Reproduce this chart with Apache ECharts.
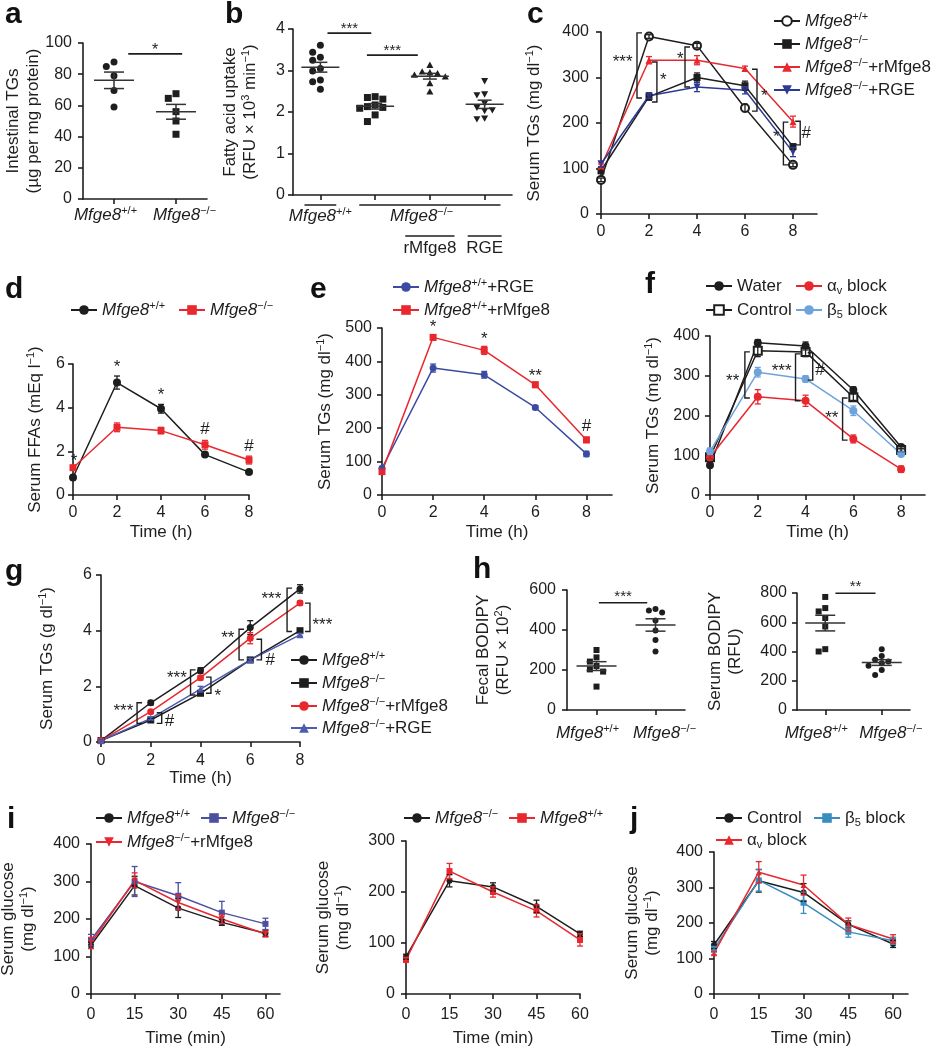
<!DOCTYPE html>
<html><head><meta charset="utf-8">
<script src="https://cdn.jsdelivr.net/npm/echarts@6/dist/echarts.min.js"></script>
<style>html,body{margin:0;padding:0;background:#fff}#chart{width:934px;height:1050px}</style>
</head><body><div id="chart"></div>
<script>
// ================= DATA =================
const TIME_H = [0, 2, 4, 6, 8];
const TIME_MIN = [0, 15, 30, 45, 60];
const H_TICKS = [0, 2, 4, 6, 8];
const MIN_TICKS = [0, 15, 30, 45, 60];

// a
const A_CATS = ['wt', 'ko'];
const A_LABELS = ['{i|Mfge8}{s|+/+}{gap|}', '{gap|}{i|Mfge8}{s|−/−}'];
const A_WT = [87.8, 85, 79, 69.6, 59];
const A_KO = [67.5, 64.5, 56, 50, 41.5];
const A_SIG = [[0.23, 1.1, 93, '*']];
// b
const B_CATS = ['wt', 'ko', 'rm', 'rge'];
const B_LABEL_WT = '{i|Mfge8}{s|+/+}';
const B_LABEL_KO = '{i|Mfge8}{s|−/−}';
const B_SUBLABELS = ['{n|rMfge8}', '{n|RGE}'];
const B_WT = [3.61, 3.44, 3.32, 3.25, 3.05, 2.99, 2.77, 2.73, 2.55];
const B_KO = [2.37, 2.35, 2.31, 2.17, 2.13, 2.11, 2.09, 1.93, 1.77];
const B_RM = [3.13, 2.97, 2.95, 2.93, 2.89, 2.85, 2.69, 2.49];
const B_RGE = [2.75, 2.43, 2.41, 2.21, 2.11, 2.05, 2.03, 1.85, 1.83];
const B_SIG = [[0.13, 0.93, 3.9, '***'], [0.85, 1.78, 3.37, '***']];
// c
const C_NAMES = ['{i|Mfge8}{s|+/+}', '{i|Mfge8}{s|−/−}', '{i|Mfge8}{s|−/−}{n|+rMfge8}', '{i|Mfge8}{s|−/−}{n|+RGE}'];
const C_WT = [75, 390, 370, 233, 108];   const C_WT_SEM = [4, 4, 5, 8, 4];
const C_KO = [95, 258, 300, 282, 148];   const C_KO_SEM = [6, 8, 10, 10, 6];
const C_RM = [105, 338, 338, 320, 203];  const C_RM_SEM = [5, 8, 10, 5, 12];
const C_RGE = [110, 260, 279, 272, 136]; const C_RGE_SEM = [6, 6, 10, 8, 10];
const C_STARS = [[0.9, 343, '***'], [2.6, 303, '*'], [3.3, 350, '*'], [6.8, 268, '*'], [7.3, 178, '*'], [8.55, 178, '#']];
const C_BRACKETS = [[1.5, 255, 398, 1], [2.33, 246, 334, -1], [3.5, 279, 367, 1], [6.5, 226, 318, -1], [7.6, 108, 202, 1], [8.3, 152, 204, -1]];
// d
const D_NAMES = ['{i|Mfge8}{s|+/+}', '{i|Mfge8}{s|−/−}'];
const D_WT = [0.8, 5.15, 3.95, 1.85, 1.05]; const D_WT_SEM = [0.1, 0.3, 0.2, 0.05, 0.05];
const D_KO = [1.25, 3.1, 2.95, 2.3, 1.6];   const D_KO_SEM = [0.1, 0.2, 0.15, 0.2, 0.18];
const D_STARS = [[0.05, 1.75, '*'], [2, 6.05, '*'], [4, 4.75, '*'], [6, 3.0, '#'], [8, 2.25, '#']];
// e
const E_NAMES = ['{i|Mfge8}{s|+/+}{n|+RGE}', '{i|Mfge8}{s|+/+}{n|+rMfge8}'];
const E_RGE = [80, 380, 360, 262, 123]; const E_RGE_SEM = [5, 12, 10, 6, 8];
const E_RM = [70, 472, 433, 330, 165];  const E_RM_SEM = [5, 8, 12, 8, 8];
const E_STARS = [[2, 515, '*'], [4, 478, '*'], [6, 368, '**'], [8, 205, '#']];
// f
const F_NAMES = ['{n|Water}', '{n|Control}', '{n|α}{u|v}{n| block}', '{n|β}{u|5}{n| block}'];
const F_WATER = [75, 383, 375, 264, 121]; const F_WATER_SEM = [5, 8, 10, 8, 5];
const F_CTRL = [95, 363, 360, 246, 113];  const F_CTRL_SEM = [5, 15, 12, 8, 5];
const F_AV = [95, 247, 237, 141, 65];     const F_AV_SEM = [5, 18, 14, 10, 8];
const F_B5 = [110, 309, 292, 212, 103];   const F_B5_SEM = [8, 12, 8, 12, 5];
const F_STARS = [[0.95, 297, '**'], [3.0, 322, '***'], [4.6, 314, '#'], [5.1, 204, '**']];
const F_BRACKETS = [[1.46, 244, 360, 1], [3.58, 237, 355, 1], [4.3, 289, 358, -1], [5.55, 138, 244, 1]];
// g
const G_NAMES = ['{i|Mfge8}{s|+/+}', '{i|Mfge8}{s|−/−}', '{i|Mfge8}{s|−/−}{n|+rMfge8}', '{i|Mfge8}{s|−/−}{n|+RGE}'];
const G_WT = [0.05, 1.41, 2.57, 4.11, 5.5];  const G_WT_SEM = [0.02, 0.08, 0.1, 0.25, 0.15];
const G_KO = [0.05, 0.79, 1.75, 2.95, 4.0];  const G_KO_SEM = [0.02, 0.05, 0.05, 0.05, 0.05];
const G_RM = [0.05, 1.09, 2.31, 3.73, 4.99]; const G_RM_SEM = [0.02, 0.05, 0.08, 0.2, 0.08];
const G_RGE = [0.05, 0.85, 1.9, 2.95, 3.85]; const G_RGE_SEM = [0.02, 0.05, 0.1, 0.05, 0.05];
const G_STARS = [[0.9, 1.27, '***'], [2.75, 0.73, '#'], [3.05, 2.45, '***'], [4.7, 1.81, '*'], [5.1, 3.87, '**'], [6.8, 2.95, '#'], [6.85, 5.29, '***'], [8.9, 4.36, '***']];
const G_BRACKETS = [[1.45, 0.67, 1.41, 1], [2.44, 0.67, 1.05, -1], [3.6, 1.69, 2.59, 1], [4.42, 1.75, 2.33, -1], [5.55, 2.95, 4.05, 1], [6.45, 2.95, 3.69, -1], [7.48, 3.97, 5.53, 1], [8.4, 3.97, 4.99, -1]];
// h
const H_CATS = ['wt', 'ko'];
const H_LABELS = ['{i|Mfge8}{s|+/+}{gap2|}', '{gap2|}{i|Mfge8}{s|−/−}'];
const H_FECAL_WT = [300, 263, 242, 220, 203, 192, 117];
const H_FECAL_KO = [505, 497, 488, 447, 397, 350, 292];
const H_SERUM_WT = [773, 697, 674, 629, 571, 416, 400];
const H_SERUM_KO = [416, 370, 343, 331, 320, 302, 274, 240];
const H_FECAL_SIG = [[0.04, 0.86, 536, '***']];
const H_SERUM_SIG = [[0.18, 0.89, 798, '**']];
// i
const I1_NAMES = ['{i|Mfge8}{s|+/+}', '{i|Mfge8}{s|−/−}', '{i|Mfge8}{s|−/−}{n|+rMfge8}'];
const I1_WT = [130, 289, 229, 191, 162]; const I1_WT_SEM = [8, 25, 25, 8, 8];
const I1_KO = [144, 300, 262, 217, 187]; const I1_KO_SEM = [15, 40, 35, 30, 15];
const I1_RM = [136, 303, 244, 200, 160]; const I1_RM_SEM = [15, 20, 20, 12, 8];
const I2_NAMES = ['{i|Mfge8}{s|−/−}', '{i|Mfge8}{s|+/+}'];
const I2_KO = [73, 222, 210, 172, 118]; const I2_KO_SEM = [5, 12, 8, 12, 5];
const I2_WT = [67, 241, 200, 163, 106]; const I2_WT_SEM = [5, 15, 10, 12, 12];
// j
const J_NAMES = ['{n|Control}', '{n|β}{u|5}{n| block}', '{n|α}{u|v}{n| block}'];
const J_CTRL = [138, 319, 286, 196, 141]; const J_CTRL_SEM = [10, 32, 25, 10, 10];
const J_B5 = [126, 320, 257, 175, 150];   const J_B5_SEM = [8, 30, 30, 15, 10];
const J_AV = [115, 343, 307, 196, 155];   const J_AV_SEM = [5, 30, 28, 18, 12];

// ================= STYLE / HELPERS =================
const F = "'Liberation Sans', Arial, Helvetica, sans-serif";
const TXT = '#1e1e1e', AX = '#1e1e1e';
const RED = '#e8282e';
const RICH = {
  n: {fontFamily: F, fontSize: 17, color: TXT, lineHeight: 20},
  i: {fontFamily: F, fontSize: 17, fontStyle: 'italic', color: TXT, lineHeight: 20},
  s: {fontFamily: F, fontSize: 11, color: TXT, verticalAlign: 'top', lineHeight: 20},
  u: {fontFamily: F, fontSize: 11, color: TXT, verticalAlign: 'bottom', lineHeight: 20},
  gap: {width: 17, lineHeight: 20},
  gap2: {width: 18, lineHeight: 20}
};
const grids = [], xAxes = [], yAxes = [], series = [], legends = [], graphics = [];
const NAME_TEXT = {};

function addGrid(l, t, r, b) {
  grids.push({left: l, top: t, width: r - l, height: b - t, containLabel: false, outerBoundsMode: 'none'});
  return grids.length - 1;
}
function axLine() { return {show: true, onZero: false, lineStyle: {color: AX, width: 1.6}}; }
function axTick(extra) { return Object.assign({show: true, length: 5, inside: false, lineStyle: {color: AX, width: 1.6}}, extra || {}); }
function yAx(gi, min, max, interval, name, gap, margin) {
  yAxes.push({gridIndex: gi, type: 'value', min, max, interval, name, nameLocation: 'middle', nameGap: gap, nameRotate: 90,
    nameMoveOverlap: false,
    nameTextStyle: {fontFamily: F, fontSize: 17, color: TXT, lineHeight: 20, rich: RICH},
    axisLine: axLine(), axisTick: axTick(), splitLine: {show: false},
    axisLabel: {fontFamily: F, fontSize: 16, color: TXT, margin}});
}
function xVal(gi, max, ticks, name, margin, gap) {
  xAxes.push({gridIndex: gi, type: 'value', min: 0, max, name, nameLocation: 'middle', nameGap: gap, nameMoveOverlap: false,
    nameTextStyle: {fontFamily: F, fontSize: 17, color: TXT},
    axisLine: axLine(), axisTick: axTick({customValues: ticks}), splitLine: {show: false},
    axisLabel: {fontFamily: F, fontSize: 16, color: TXT, margin, customValues: ticks}});
}
function xCat(gi, cats, labels, margin) {
  xAxes.push({gridIndex: gi, type: 'category', data: cats, boundaryGap: true,
    axisLine: axLine(), axisTick: axTick({alignWithLabel: true}), splitLine: {show: false},
    axisLabel: {show: !!labels, interval: 0, margin, formatter: (v, i) => labels ? labels[i] : '', rich: RICH,
      fontFamily: F, fontSize: 17, color: TXT, hideOverlap: false}});
}
function errS(gi, xs, ys, sems, color, cap) {
  return {type: 'custom', xAxisIndex: gi, yAxisIndex: gi, silent: true, z: 4,
    data: xs.map((x, i) => [x, ys[i], sems[i]]),
    renderItem: (p, api) => {
      const x = api.value(0), m = api.value(1), s = api.value(2);
      const t = api.coord([x, m + s]), b = api.coord([x, m - s]);
      const st = {stroke: color, lineWidth: 1.3};
      return {type: 'group', children: [
        {type: 'line', shape: {x1: t[0], y1: t[1], x2: b[0], y2: b[1]}, style: st},
        {type: 'line', shape: {x1: t[0] - cap, y1: t[1], x2: t[0] + cap, y2: t[1]}, style: st},
        {type: 'line', shape: {x1: b[0] - cap, y1: b[1], x2: b[0] + cap, y2: b[1]}, style: st}]};
    }};
}
function lineS(gi, id, text, xs, ys, sems, color, symbol, o) {
  o = o || {};
  NAME_TEXT[id] = text;
  series.push({type: 'line', name: id, xAxisIndex: gi, yAxisIndex: gi, data: xs.map((x, i) => [x, ys[i]]),
    symbol, symbolSize: o.size || 7, symbolRotate: o.rot || 0, showSymbol: true,
    lineStyle: {color, width: 1.5}, itemStyle: {color, borderWidth: symbol.indexOf('empty') === 0 ? 1.5 : 0},
    z: 3, silent: true, emphasis: {disabled: true}});
  if (sems) series.push(errS(gi, xs, ys, sems, color, o.cap || 3));
}
function starS(gi, items, fs) {
  series.push({type: 'custom', xAxisIndex: gi, yAxisIndex: gi, silent: true, z: 6,
    data: items.map(d => [d[0], d[1]]),
    renderItem: (p, api) => {
      const d = items[p.dataIndex];
      const c = api.coord([api.value(0), api.value(1)]);
      const dy = d[2].indexOf('*') >= 0 ? 0.25 * fs : 0;
      return {type: 'text', x: c[0], y: c[1] + dy,
        style: {text: d[2], font: fs + 'px ' + F, fill: TXT, align: 'center', verticalAlign: 'middle'}};
    }});
}
function brkS(gi, items) {
  series.push({type: 'custom', xAxisIndex: gi, yAxisIndex: gi, silent: true, z: 6,
    data: items.map(d => [d[0], d[1], d[2]]),
    renderItem: (p, api) => {
      const d = items[p.dataIndex];
      const a = api.coord([d[0], d[1]]), b = api.coord([d[0], d[2]]);
      const arm = 5 * d[3];
      return {type: 'polyline', shape: {points: [[a[0] + arm, a[1]], [a[0], a[1]], [b[0], b[1]], [b[0] + arm, b[1]]]},
        style: {stroke: TXT, lineWidth: 1.4, fill: null}};
    }});
}
function symEl(type, cx, cy, s, color) {
  const h = s / 2;
  if (type === 'circle') return {type: 'circle', shape: {cx, cy, r: h}, style: {fill: color}};
  if (type === 'rect') return {type: 'rect', shape: {x: cx - h, y: cy - h, width: s, height: s}, style: {fill: color}};
  if (type === 'tri') return {type: 'polygon', shape: {points: [[cx, cy - h], [cx + h, cy + h * 0.8], [cx - h, cy + h * 0.8]]}, style: {fill: color}};
  return {type: 'polygon', shape: {points: [[cx, cy + h], [cx + h, cy - h * 0.8], [cx - h, cy - h * 0.8]]}, style: {fill: color}};
}
function swarm(pys, size) {
  const order = pys.map((py, i) => i).sort((a, b) => pys[a] - pys[b]);
  const placed = [], off = new Array(pys.length).fill(0);
  const cands = [0, -1, 1, -2, 2, -3, 3];
  order.forEach(i => {
    for (const c of cands) {
      const dx = c * size * 1.1;
      if (placed.every(q => Math.hypot(q.dx - dx, q.py - pys[i]) >= size * 1.05)) {
        placed.push({dx, py: pys[i]}); off[i] = dx; break;
      }
    }
  });
  return off;
}
function dotS(gi, groups, syms, size) {
  const data = [], meta = [];
  groups.forEach((vals, g) => vals.forEach((v, k) => { data.push([g, v]); meta.push({g, k}); }));
  let offs = null;
  series.push({type: 'custom', xAxisIndex: gi, yAxisIndex: gi, silent: true, z: 3, data,
    renderItem: (p, api) => {
      if (!offs) offs = groups.map((vals, g) => swarm(vals.map(v => api.coord([g, v])[1]), size));
      const m = meta[p.dataIndex];
      const c = api.coord([m.g, groups[m.g][m.k]]);
      return symEl(syms[m.g], c[0] + offs[m.g][m.k], c[1], size, TXT);
    }});
}
function meanS(gi, groups, halfW, cap) {
  const stats = groups.map(vals => {
    const n = vals.length, m = vals.reduce((a, b) => a + b, 0) / n;
    const sd = Math.sqrt(vals.reduce((a, b) => a + (b - m) * (b - m), 0) / (n - 1));
    return [m, sd / Math.sqrt(n)];
  });
  series.push({type: 'custom', xAxisIndex: gi, yAxisIndex: gi, silent: true, z: 4,
    data: stats.map((s, g) => [g, s[0], s[1]]),
    renderItem: (p, api) => {
      const g = api.value(0), m = api.value(1), s = api.value(2);
      const c = api.coord([g, m]), t = api.coord([g, m + s]), b = api.coord([g, m - s]);
      const st = {stroke: '#333', lineWidth: 1.5};
      const L = (x1, y1, x2, y2) => ({type: 'line', shape: {x1, y1, x2, y2}, style: st});
      return {type: 'group', children: [L(c[0] - halfW, c[1], c[0] + halfW, c[1]), L(t[0], t[1], b[0], b[1]),
        L(t[0] - cap, t[1], t[0] + cap, t[1]), L(b[0] - cap, b[1], b[0] + cap, b[1])]};
    }});
}
function sigS(gi, items, fs, up) {
  series.push({type: 'custom', xAxisIndex: gi, yAxisIndex: gi, silent: true, z: 6,
    data: items.map(d => [0, d[2]]),
    renderItem: (p, api) => {
      const d = items[p.dataIndex];
      const c0 = api.coord([0, d[2]]), c1 = api.coord([1, d[2]]);
      const X = f => c0[0] + (c1[0] - c0[0]) * f, y = c0[1];
      return {type: 'group', children: [
        {type: 'line', shape: {x1: X(d[0]), y1: y, x2: X(d[1]), y2: y}, style: {stroke: TXT, lineWidth: 1.6}},
        {type: 'text', x: (X(d[0]) + X(d[1])) / 2, y: y - up + 0.25 * fs,
          style: {text: d[3], font: fs + 'px ' + F, fill: TXT, align: 'center', verticalAlign: 'middle'}}]};
    }});
}
function leg(id, x, y) {
  legends.push({data: [id], left: x, top: y - 10, orient: 'horizontal', padding: 0, itemGap: 0,
    itemWidth: 26, itemHeight: 12, selectedMode: false, formatter: n => NAME_TEXT[n],
    textStyle: {fontFamily: F, fontSize: 17, color: TXT, lineHeight: 20, rich: RICH}});
}
const TG = '{n|Serum TGs (mg dl}{s|−1}{n|)}';
const GLU = '{n|Serum glucose}\n{n|(mg dl}{s|−1}{n|)}';

// ================= PANEL a =================
const gA = addGrid(83, 43, 207, 199);
xCat(gA, A_CATS, A_LABELS, 6);
yAx(gA, 0, 100, 20, '{n|Intestinal TGs}\n{n|(µg per mg protein)}', 40, 11);
dotS(gA, [A_WT, A_KO], ['circle', 'rect'], 7);
meanS(gA, [A_WT, A_KO], 20, 10);
sigS(gA, A_SIG, 16, 7);

// ================= PANEL b =================
const gB = addGrid(293, 29, 512, 195);
xCat(gB, B_CATS, null, 8);
yAx(gB, 0, 4, 1, '{n|Fatty acid uptake}\n{n|(RFU × 10}{s|3}{n| min}{s|−1}{n|)}', 33, 8);
dotS(gB, [B_WT, B_KO, B_RM, B_RGE], ['circle', 'rect', 'tri', 'itri'], 7);
meanS(gB, [B_WT, B_KO, B_RM, B_RGE], 19, 7);
sigS(gB, B_SIG, 15, 8);
series.push({type: 'custom', xAxisIndex: gB, yAxisIndex: gB, silent: true, data: [[0, 0]],
  renderItem: (p, api) => {
    const o = api.coord([0, 0]), o1 = api.coord([1, 0]);
    const X = f => o[0] + (o1[0] - o[0]) * f, base = o[1];
    const ln = (a, b, y) => ({type: 'line', shape: {x1: X(a), y1: base + y, x2: X(b), y2: base + y}, style: {stroke: TXT, lineWidth: 1.6}});
    const tx = (t, f, y) => ({type: 'text', x: X(f), y: base + y, style: {text: t, rich: RICH, font: '17px ' + F, fill: TXT, align: 'center', verticalAlign: 'middle'}});
    return {type: 'group', children: [ln(-0.29, 0.29, 10), ln(0.71, 3.29, 10), tx(B_LABEL_WT, 0, 21), tx(B_LABEL_KO, 1.85, 21),
      ln(1.55, 2.45, 41), ln(2.69, 3.31, 41), tx(B_SUBLABELS[0], 2, 53), tx(B_SUBLABELS[1], 3, 53)]};
  }});

// ================= PANEL c =================
const gC = addGrid(601, 32, 817, 214);
xVal(gC, 9, H_TICKS, '', 10, 30);
yAx(gC, 0, 400, 100, TG, 57, 12);
lineS(gC, 'c1', C_NAMES[0], TIME_H, C_WT, C_WT_SEM, TXT, 'emptyCircle', {size: 8});
lineS(gC, 'c2', C_NAMES[1], TIME_H, C_KO, C_KO_SEM, TXT, 'rect', {size: 7});
lineS(gC, 'c3', C_NAMES[2], TIME_H, C_RM, C_RM_SEM, RED, 'triangle', {size: 7});
lineS(gC, 'c4', C_NAMES[3], TIME_H, C_RGE, C_RGE_SEM, '#2d3a94', 'triangle', {size: 7, rot: 180});
starS(gC, C_STARS, 17); brkS(gC, C_BRACKETS);
leg('c1', 773, 21); leg('c2', 773, 44); leg('c3', 773, 67); leg('c4', 773, 90);

// ================= PANEL d =================
const gD = addGrid(73, 364, 249, 495);
xVal(gD, 8, H_TICKS, 'Time (h)', 10, 29);
yAx(gD, 0, 6, 2, '{n|Serum FFAs (mEq l}{s|−1}{n|)}', 28, 8);
lineS(gD, 'd1', D_NAMES[0], TIME_H, D_WT, D_WT_SEM, TXT, 'circle', {size: 8});
lineS(gD, 'd2', D_NAMES[1], TIME_H, D_KO, D_KO_SEM, RED, 'rect', {size: 7});
starS(gD, D_STARS, 17);
leg('d1', 70, 310); leg('d2', 178, 310);

// ================= PANEL e =================
const gE = addGrid(382, 328, 612, 495);
xVal(gE, 9, H_TICKS, 'Time (h)', 10, 29);
yAx(gE, 0, 500, 100, TG, 47, 10);
lineS(gE, 'e1', E_NAMES[0], TIME_H, E_RGE, E_RGE_SEM, '#3b4ba3', 'circle', {size: 7});
lineS(gE, 'e2', E_NAMES[1], TIME_H, E_RM, E_RM_SEM, RED, 'rect', {size: 7});
starS(gE, E_STARS, 17);
leg('e1', 392, 287); leg('e2', 392, 310);

// ================= PANEL f =================
const gF = addGrid(710, 336, 925, 495);
xVal(gF, 9, H_TICKS, 'Time (h)', 10, 29);
yAx(gF, 0, 400, 100, TG, 47, 10);
lineS(gF, 'f1', F_NAMES[0], TIME_H, F_WATER, F_WATER_SEM, TXT, 'circle', {size: 8});
lineS(gF, 'f2', F_NAMES[1], TIME_H, F_CTRL, F_CTRL_SEM, TXT, 'emptyRect', {size: 8});
lineS(gF, 'f3', F_NAMES[2], TIME_H, F_AV, F_AV_SEM, RED, 'circle', {size: 8});
lineS(gF, 'f4', F_NAMES[3], TIME_H, F_B5, F_B5_SEM, '#6ea3dc', 'circle', {size: 8});
starS(gF, F_STARS, 17); brkS(gF, F_BRACKETS);
leg('f1', 705, 286); leg('f3', 795, 286); leg('f2', 705, 310); leg('f4', 795, 310);

// ================= PANEL g =================
const gG = addGrid(101, 575, 300, 742);
xVal(gG, 8, H_TICKS, 'Time (h)', 11, 28);
yAx(gG, 0, 6, 2, '{n|Serum TGs (g dl}{s|−1}{n|)}', 44, 9);
lineS(gG, 'g1', G_NAMES[0], TIME_H, G_WT, G_WT_SEM, TXT, 'circle', {size: 7});
lineS(gG, 'g2', G_NAMES[1], TIME_H, G_KO, G_KO_SEM, TXT, 'rect', {size: 7});
lineS(gG, 'g3', G_NAMES[2], TIME_H, G_RM, G_RM_SEM, RED, 'circle', {size: 7});
lineS(gG, 'g4', G_NAMES[3], TIME_H, G_RGE, G_RGE_SEM, '#4b5cb3', 'triangle', {size: 7});
starS(gG, G_STARS, 17); brkS(gG, G_BRACKETS);
leg('g1', 290, 660); leg('g2', 290, 683); leg('g3', 290, 706); leg('g4', 290, 728);

// ================= PANEL h =================
const gH1 = addGrid(567, 590, 685, 710);
xCat(gH1, H_CATS, H_LABELS, 13);
yAx(gH1, 0, 600, 200, '{n|Fecal BODIPY}\n{n|(RFU × 10}{s|2}{n|)}', 54, 11);
dotS(gH1, [H_FECAL_WT, H_FECAL_KO], ['rect', 'circle'], 6);
meanS(gH1, [H_FECAL_WT, H_FECAL_KO], 20, 10);
sigS(gH1, H_FECAL_SIG, 15, 10);
const gH2 = addGrid(797, 593, 910, 710);
xCat(gH2, H_CATS, H_LABELS, 13);
yAx(gH2, 0, 800, 200, '{n|Serum BODIPY}\n{n|(RFU)}', 52, 10);
dotS(gH2, [H_SERUM_WT, H_SERUM_KO], ['rect', 'circle'], 6);
meanS(gH2, [H_SERUM_WT, H_SERUM_KO], 20, 10);
sigS(gH2, H_SERUM_SIG, 15, 10);

// ================= PANEL i =================
const gI1 = addGrid(91, 844, 280, 994);
xVal(gI1, 65, MIN_TICKS, 'Time (min)', 13, 36);
yAx(gI1, 0, 400, 100, GLU, 53, 11);
lineS(gI1, 'i1a', I1_NAMES[0], TIME_MIN, I1_WT, I1_WT_SEM, TXT, 'circle', {size: 6});
lineS(gI1, 'i1b', I1_NAMES[1], TIME_MIN, I1_KO, I1_KO_SEM, '#4d4f9f', 'rect', {size: 6});
lineS(gI1, 'i1c', I1_NAMES[2], TIME_MIN, I1_RM, I1_RM_SEM, RED, 'triangle', {size: 6, rot: 180});
leg('i1a', 95, 818); leg('i1b', 200, 818); leg('i1c', 95, 842);
const gI2 = addGrid(406, 841, 580, 994);
xVal(gI2, 60, MIN_TICKS, 'Time (min)', 13, 36);
yAx(gI2, 0, 300, 100, GLU, 53, 11);
lineS(gI2, 'i2a', I2_NAMES[0], TIME_MIN, I2_KO, I2_KO_SEM, TXT, 'circle', {size: 6});
lineS(gI2, 'i2b', I2_NAMES[1], TIME_MIN, I2_WT, I2_WT_SEM, RED, 'rect', {size: 6});
leg('i2a', 403, 818); leg('i2b', 508, 818);

// ================= PANEL j =================
const gJ = addGrid(714, 852, 908, 994);
xVal(gJ, 65, MIN_TICKS, 'Time (min)', 13, 36);
yAx(gJ, 0, 400, 100, GLU, 52, 11);
lineS(gJ, 'j1', J_NAMES[0], TIME_MIN, J_CTRL, J_CTRL_SEM, TXT, 'circle', {size: 6});
lineS(gJ, 'j2', J_NAMES[1], TIME_MIN, J_B5, J_B5_SEM, '#3a8ebf', 'rect', {size: 6});
lineS(gJ, 'j3', J_NAMES[2], TIME_MIN, J_AV, J_AV_SEM, RED, 'triangle', {size: 6});
leg('j1', 715, 818); leg('j2', 813, 818); leg('j3', 715, 840);

// ================= PANEL LETTERS =================
[['a', 5, 25], ['b', 225, 25], ['c', 527, 25], ['d', 5, 300], ['e', 310, 300], ['f', 645, 295],
 ['g', 5, 582], ['h', 473, 580], ['i', 7, 830], ['j', 630, 830]].forEach(([t, x, y]) => {
  graphics.push({type: 'text', x, y: y - 10, silent: true,
    style: {text: t, font: 'bold 30px ' + F, fill: '#111', align: 'left', verticalAlign: 'middle'}});
});

const chart = echarts.init(document.getElementById('chart'), null, {renderer: 'canvas'});
chart.setOption({animation: false, backgroundColor: '#fff', tooltip: {show: false},
  grid: grids, xAxis: xAxes, yAxis: yAxes, series, legend: legends, graphic: graphics});
</script>
</body></html>
